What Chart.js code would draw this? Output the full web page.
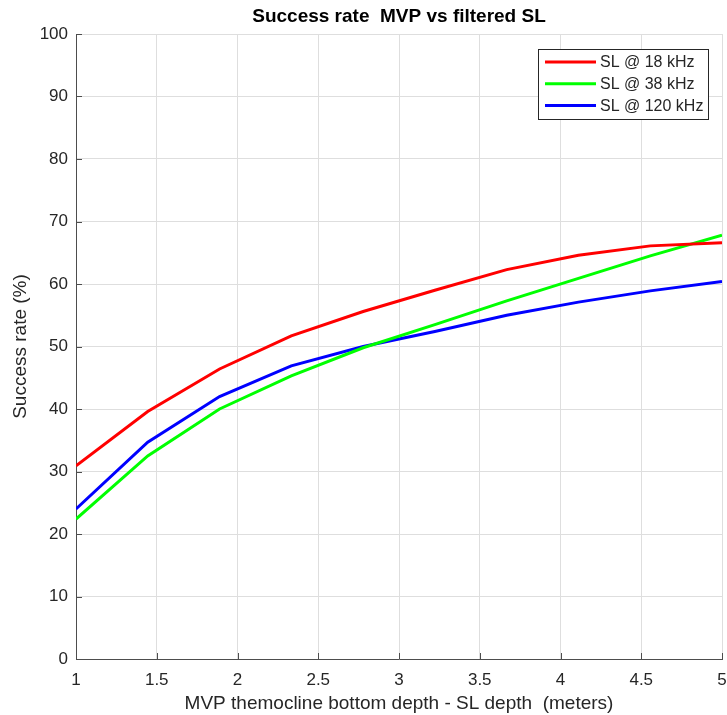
<!DOCTYPE html>
<html>
<head>
<meta charset="utf-8">
<script src="https://cdn.jsdelivr.net/npm/chart.js@4"></script>
<style>
  html, body { margin: 0; padding: 0; background: #fff; }
  #c { display: block; }
</style>
</head>
<body>
<canvas id="c" width="727" height="715"></canvas>
<script>
// depth difference (m) at which each success rate was computed
const depthDiff = [1, 1.444, 1.889, 2.333, 2.778, 3.222, 3.667, 4.111, 4.556, 5];

const rate18  = [30.9, 39.6, 46.4, 51.7, 55.6, 59.0, 62.3, 64.6, 66.1, 66.6];
const rate38  = [22.4, 32.5, 40.0, 45.3, 49.8, 53.5, 57.3, 60.9, 64.5, 67.8];
const rate120 = [24.0, 34.7, 42.0, 46.9, 50.0, 52.4, 55.0, 57.1, 58.9, 60.4];

const seriesNames  = ['SL @ 18 kHz', 'SL @ 38 kHz', 'SL @ 120 kHz'];
const seriesColors = ['#ff0000', '#00ff00', '#0000ff'];

const TEXT = '#262626';
const AXIS = '#4d4d4d';
const GRID = '#dedede';
const FONT = '"Liberation Sans", Arial, sans-serif';

function pts(ys) { return depthDiff.map((x, i) => ({ x: x, y: ys[i] })); }

// ── Plugin: title, axis labels, inward ticks, boxed legend ─────────
const decor = {
  id: 'decor',
  afterDraw(chart) {
    const ctx = chart.ctx, a = chart.chartArea;
    const xs = chart.scales.x, ys = chart.scales.y;
    ctx.save();

    // inward tick marks like MATLAB
    ctx.strokeStyle = AXIS; ctx.lineWidth = 1;
    xs.ticks.forEach(t => {
      const px = Math.round(xs.getPixelForValue(t.value)) + 0.5;
      ctx.beginPath(); ctx.moveTo(px, a.bottom); ctx.lineTo(px, a.bottom - 6); ctx.stroke();
    });
    ys.ticks.forEach(t => {
      const py = Math.round(ys.getPixelForValue(t.value)) + 0.5;
      ctx.beginPath(); ctx.moveTo(a.left, py); ctx.lineTo(a.left + 6, py); ctx.stroke();
    });

    // title
    ctx.fillStyle = '#000';
    ctx.font = 'bold 19px ' + FONT;
    ctx.textAlign = 'center'; ctx.textBaseline = 'middle';
    ctx.fillText('Success rate  MVP vs filtered SL', (a.left + a.right) / 2, 17);

    // axis titles
    ctx.fillStyle = TEXT;
    ctx.font = '19px ' + FONT;
    ctx.fillText('MVP themocline bottom depth - SL depth  (meters)', (a.left + a.right) / 2, 704);
    ctx.translate(21, (a.top + a.bottom) / 2);
    ctx.rotate(-Math.PI / 2);
    ctx.fillText('Success rate (%)', 0, 0);
    ctx.setTransform(1, 0, 0, 1, 0, 0);

    // legend
    const lx = 538, ly = 49, lw = 170, lh = 70;
    ctx.fillStyle = '#fff';
    ctx.fillRect(lx, ly, lw, lh);
    ctx.strokeStyle = TEXT; ctx.lineWidth = 1;
    ctx.strokeRect(lx + 0.5, ly + 0.5, lw, lh);
    ctx.font = '16px ' + FONT;
    ctx.textAlign = 'left';
    chart.data.datasets.forEach((ds, i) => {
      const ry = 62 + i * 21.7;
      ctx.strokeStyle = ds.borderColor; ctx.lineWidth = 3;
      ctx.beginPath(); ctx.moveTo(545, ry); ctx.lineTo(596, ry); ctx.stroke();
      ctx.fillStyle = TEXT;
      ctx.fillText(ds.label, 600, ry + 1);
    });
    ctx.restore();
  }
};

new Chart(document.getElementById('c').getContext('2d'), {
  type: 'line',
  data: {
    datasets: [0, 1, 2].map(i => ({
      label: seriesNames[i],
      data: pts([rate18, rate38, rate120][i]),
      borderColor: seriesColors[i],
      borderWidth: 3,
      pointRadius: 0,
      tension: 0
    }))
  },
  options: {
    responsive: false,
    animation: false,
    layout: { padding: { top: 34, right: 5, left: 0, bottom: 0 } },
    plugins: { legend: { display: false }, title: { display: false }, tooltip: { enabled: false } },
    scales: {
      x: {
        type: 'linear', min: 1, max: 5,
        ticks: {
          stepSize: 0.5, color: TEXT, font: { family: FONT, size: 17 }, padding: 11, maxRotation: 0,
          callback: v => String(v)
        },
        grid: { color: GRID, drawTicks: false },
        border: { color: AXIS, width: 1 },
        afterFit(s) { s.height = 56; s.paddingLeft = 0; s.paddingRight = 0; }
      },
      y: {
        min: 0, max: 100,
        ticks: { stepSize: 10, color: TEXT, font: { family: FONT, size: 17 }, padding: 8 },
        grid: { color: GRID, drawTicks: false },
        border: { color: AXIS, width: 1 },
        afterFit(s) { s.width = 76; s.paddingTop = 0; s.paddingBottom = 0; }
      }
    }
  },
  plugins: [decor]
});
</script>
</body>
</html>
